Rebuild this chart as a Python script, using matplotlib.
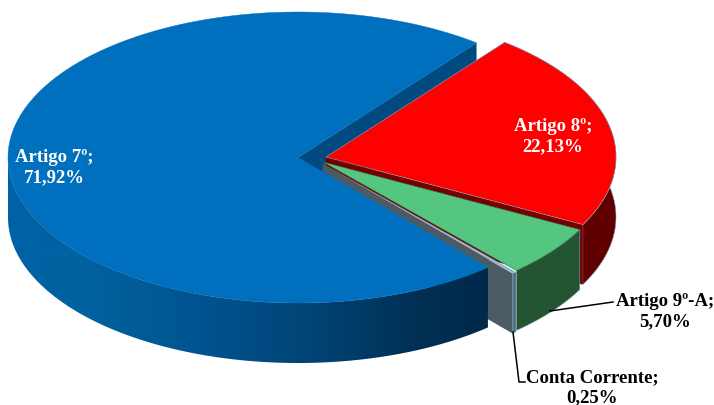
import numpy as np
import matplotlib
matplotlib.use("Agg")
import matplotlib.pyplot as plt
from matplotlib.patches import Polygon
from matplotlib.colors import LinearSegmentedColormap

# Data
categories = ["Artigo 7º", "Artigo 8º", "Artigo 9º-A", "Conta Corrente"]
values = [71.92, 22.13, 5.70, 0.25]
labels = ["71,92%", "22,13%", "5,70%", "0,25%"]

# Style / layout (pixel space)
W, H = 714, 406
START = 52.0
RX, RY, DEPTH = 290.0, 145.5, 60.0
apex = {"Artigo 7º": (298, 158.5), "Artigo 8º": (326, 158),
        "Artigo 9º-A": (323, 163), "Conta Corrente": (322.6, 164.5)}
top_col = {"Artigo 7º": "#006FBE", "Artigo 8º": "#FF0000",
           "Artigo 9º-A": "#55C67F", "Conta Corrente": "#8FB8CC"}
wall_col = {"Artigo 8º": "#600000", "Artigo 9º-A": "#235533",
            "Conta Corrente": "#4F7286"}
cut_col = {"Artigo 7º": "#004A80", "Artigo 8º": "#760000",
           "Artigo 9º-A": "#235533", "Conta Corrente": "#4B5A63"}

fig = plt.figure(figsize=(W / 100, H / 100), dpi=100)
ax = fig.add_axes([0, 0, 1, 1])
ax.set_xlim(0, W)
ax.set_ylim(H, 0)
ax.axis("off")

# slice angles: clockwise from START, red first, blue last
order = ["Artigo 8º", "Artigo 9º-A", "Conta Corrente", "Artigo 7º"]
val = dict(zip(categories, values))
ang = {}
a = START
for c in order:
    a2 = a - val[c] * 3.6
    ang[c] = (a, a2)
    a = a2


def arc(c, a0=None, a1=None):
    s, e = ang[c]
    s = s if a0 is None else a0
    e = e if a1 is None else a1
    t = np.radians(np.linspace(s, e, 300))
    x0, y0 = apex[c]
    return np.c_[x0 + RX * np.cos(t), y0 - RY * np.sin(t)]


def top(c, z, ec="#7FA8BC", lw=0.4):
    pts = np.vstack([[apex[c]], arc(c)])
    ax.add_patch(Polygon(pts, closed=True, fc=top_col[c], ec=ec, lw=lw, zorder=z))


def cut(c, angle, z):
    x0, y0 = apex[c]
    t = np.radians(angle)
    p = (x0 + RX * np.cos(t), y0 - RY * np.sin(t))
    pts = [(x0, y0), p, (p[0], p[1] + DEPTH), (x0, y0 + DEPTH)]
    ax.add_patch(Polygon(pts, closed=True, fc=cut_col[c], ec="none", zorder=z))


def outer(c, z, ec="#7FA8BC", lw=0.4):
    r = arc(c)
    pts = np.vstack([r, (r + [0, DEPTH])[::-1]])
    ax.add_patch(Polygon(pts, closed=True, fc=wall_col[c], ec=ec, lw=lw, zorder=z))


# back cut wall of the blue slice
cut("Artigo 7º", ang["Artigo 7º"][1], 1)
# red
outer("Artigo 8º", 2)
cut("Artigo 8º", ang["Artigo 8º"][1], 3)
top("Artigo 8º", 4)
# green
outer("Artigo 9º-A", 5)
top("Artigo 9º-A", 6, ec="#2F6F49")
# thin slice
cut("Conta Corrente", ang["Conta Corrente"][1], 7)
outer("Conta Corrente", 8, ec="none", lw=0)
top("Conta Corrente", 8, ec="none", lw=0)
# blue, gradient wall
c = "Artigo 7º"
s, e = ang[c]
r = arc(c, s, -180)
wall_pts = np.vstack([r, (r + [0, DEPTH])[::-1]])
clip = Polygon(wall_pts, closed=True, transform=ax.transData, fc="none", ec="none")
ax.add_patch(clip)
cm = LinearSegmentedColormap.from_list("bw", [(0, "#0062A6"), (0.15, "#00629F"), (0.4, "#005490"),
                                              (0.65, "#004373"), (0.85, "#003054"), (1, "#00294A")])
xs = np.linspace(0, 1, 256)[None, :]
im = ax.imshow(xs, extent=(r[:, 0].min(), r[:, 0].max(), H, 0), cmap=cm, aspect="auto", zorder=9)
im.set_clip_path(clip)
ax.set_xlim(0, W)
ax.set_ylim(H, 0)
top(c, 10, ec="#006FBE", lw=0.3)

# leader lines
ax.plot([550, 613], [312, 303], color="black", lw=1.1, zorder=12)
ax.plot([513, 519, 525], [333, 383, 383], color="black", lw=1.1, zorder=12)

# labels
font = dict(family="Liberation Serif", fontweight="bold", fontsize=13.5, ha="center", va="center",
            linespacing=1.25, zorder=13)
ax.text(54, 168, f"{categories[0]};\n{labels[0]}", color="white", **font)
ax.text(553, 137, f"{categories[1]};\n{labels[1]}", color="white", **font)
ax.text(665, 312, f"{categories[2]};\n{labels[2]}", color="black", **font)
ax.text(592, 388, f"{categories[3]};\n{labels[3]}", color="black", **font)

fig.savefig("out.png", dpi=100)
